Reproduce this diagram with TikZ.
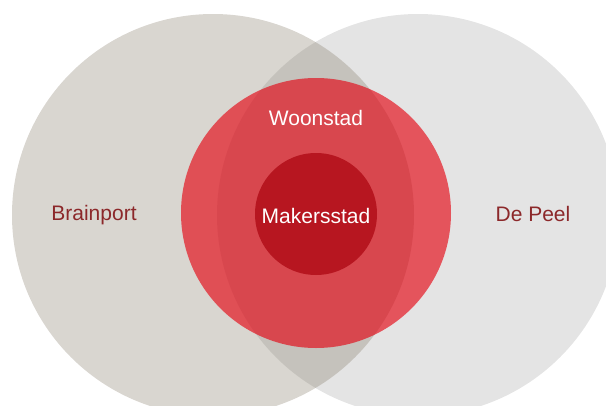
\documentclass[tikz,border=0pt]{standalone}
\usepackage{fontspec}
\setmainfont{Liberation Sans}
\definecolor{brainG}{RGB}{128,118,98}
\definecolor{peelG}{RGB}{228,228,228}
\definecolor{woonR}{RGB}{228,0,14}
\definecolor{makerR}{RGB}{183,22,32}
\definecolor{txtR}{RGB}{140,40,42}
\begin{document}
\begin{tikzpicture}[x=1pt,y=-1pt,area/.style={shape=circle,draw=none,inner sep=0pt},areaL/.style={area,fill=brainG,fill opacity=0.3},areaR/.style={area,fill=peelG},areaW/.style={area,fill=woonR,fill opacity=0.63},areaM/.style={area,fill=makerR},place/.style={font=\fontsize{21}{25}\selectfont,text=txtR},placeW/.style={place,text=white}]
\def\dg{402pt};
\def\dw{270pt};
\def\dm{122pt};

\useasboundingbox (0,0) rectangle (606,405);
\clip (0,0) rectangle (606,405);

\node[areaR,minimum size=\dg] (P) at (418,215) {};
\node[areaL,minimum size=\dg] (B) at (213,215) {};
\node[areaW,minimum size=\dw] (W) at (316,213) {};
\node[areaM,minimum size=\dm] (M) at (316,214) {};

\node[place] (Bt) at (94,215) {Brainport};
\node[place] (Pt) at (533,214) {De Peel};
\node[placeW] (Wt) at (316,118) {Woonstad};
\node[placeW] (Mt) at (316,216) {Makersstad};
\end{tikzpicture}
\end{document}
